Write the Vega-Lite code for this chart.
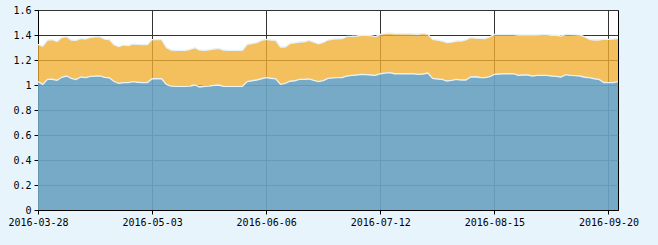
{
  "$schema": "https://vega.github.io/schema/vega-lite/v6.json",
  "autosize": "none",
  "width": 580,
  "height": 200,
  "padding": {"left": 38, "top": 10, "right": 40, "bottom": 35},
  "background": "#e8f4fc",
  "config": {
    "view": {"fill": "#ffffff", "stroke": "#000000", "strokeWidth": 1},
    "axis": {
      "labelFont": "DejaVu Sans Mono",
      "labelFontSize": 10,
      "labelColor": "#000000",
      "domainColor": "#000000",
      "tickColor": "#000000",
      "tickSize": 4,
      "gridColor": "#333333",
      "gridOpacity": 1,
      "gridWidth": 1,
      "labelOverlap": false,
      "title": null
    }
  },
  "data": {
    "values": [
      {"date": "2016-03-28", "nav": 1.027, "acc": 1.325},
      {"date": "2016-03-29", "nav": 1.005, "acc": 1.31},
      {"date": "2016-03-30", "nav": 1.045, "acc": 1.36},
      {"date": "2016-03-31", "nav": 1.046, "acc": 1.362},
      {"date": "2016-04-01", "nav": 1.037, "acc": 1.347},
      {"date": "2016-04-05", "nav": 1.062, "acc": 1.38},
      {"date": "2016-04-06", "nav": 1.072, "acc": 1.387},
      {"date": "2016-04-07", "nav": 1.052, "acc": 1.36},
      {"date": "2016-04-08", "nav": 1.043, "acc": 1.357},
      {"date": "2016-04-11", "nav": 1.064, "acc": 1.373},
      {"date": "2016-04-12", "nav": 1.059, "acc": 1.368},
      {"date": "2016-04-13", "nav": 1.069, "acc": 1.38},
      {"date": "2016-04-14", "nav": 1.071, "acc": 1.385},
      {"date": "2016-04-15", "nav": 1.072, "acc": 1.387},
      {"date": "2016-04-18", "nav": 1.061, "acc": 1.367},
      {"date": "2016-04-19", "nav": 1.058, "acc": 1.364},
      {"date": "2016-04-20", "nav": 1.028, "acc": 1.322},
      {"date": "2016-04-21", "nav": 1.013, "acc": 1.307},
      {"date": "2016-04-22", "nav": 1.019, "acc": 1.32},
      {"date": "2016-04-25", "nav": 1.019, "acc": 1.316},
      {"date": "2016-04-26", "nav": 1.027, "acc": 1.328},
      {"date": "2016-04-27", "nav": 1.022, "acc": 1.325},
      {"date": "2016-04-28", "nav": 1.019, "acc": 1.323},
      {"date": "2016-04-29", "nav": 1.019, "acc": 1.323},
      {"date": "2016-05-03", "nav": 1.05, "acc": 1.363},
      {"date": "2016-05-04", "nav": 1.05, "acc": 1.363},
      {"date": "2016-05-05", "nav": 1.05, "acc": 1.363},
      {"date": "2016-05-06", "nav": 1.005, "acc": 1.3},
      {"date": "2016-05-09", "nav": 0.992, "acc": 1.28},
      {"date": "2016-05-10", "nav": 0.99, "acc": 1.277},
      {"date": "2016-05-11", "nav": 0.99, "acc": 1.277},
      {"date": "2016-05-12", "nav": 0.99, "acc": 1.277},
      {"date": "2016-05-13", "nav": 0.992, "acc": 1.285},
      {"date": "2016-05-16", "nav": 1.0, "acc": 1.299},
      {"date": "2016-05-17", "nav": 0.984, "acc": 1.28},
      {"date": "2016-05-18", "nav": 0.99, "acc": 1.277},
      {"date": "2016-05-19", "nav": 0.992, "acc": 1.282},
      {"date": "2016-05-20", "nav": 0.997, "acc": 1.288},
      {"date": "2016-05-23", "nav": 1.0, "acc": 1.293},
      {"date": "2016-05-24", "nav": 0.99, "acc": 1.28},
      {"date": "2016-05-25", "nav": 0.99, "acc": 1.277},
      {"date": "2016-05-26", "nav": 0.99, "acc": 1.277},
      {"date": "2016-05-27", "nav": 0.99, "acc": 1.277},
      {"date": "2016-05-30", "nav": 0.99, "acc": 1.277},
      {"date": "2016-05-31", "nav": 1.027, "acc": 1.325},
      {"date": "2016-06-01", "nav": 1.034, "acc": 1.332},
      {"date": "2016-06-02", "nav": 1.04, "acc": 1.339},
      {"date": "2016-06-03", "nav": 1.05, "acc": 1.357},
      {"date": "2016-06-06", "nav": 1.059, "acc": 1.365},
      {"date": "2016-06-07", "nav": 1.054, "acc": 1.36},
      {"date": "2016-06-08", "nav": 1.05, "acc": 1.357},
      {"date": "2016-06-13", "nav": 1.005, "acc": 1.304},
      {"date": "2016-06-14", "nav": 1.012, "acc": 1.304},
      {"date": "2016-06-15", "nav": 1.03, "acc": 1.333},
      {"date": "2016-06-16", "nav": 1.034, "acc": 1.337},
      {"date": "2016-06-17", "nav": 1.045, "acc": 1.344},
      {"date": "2016-06-20", "nav": 1.045, "acc": 1.346},
      {"date": "2016-06-21", "nav": 1.048, "acc": 1.357},
      {"date": "2016-06-22", "nav": 1.037, "acc": 1.343},
      {"date": "2016-06-23", "nav": 1.027, "acc": 1.33},
      {"date": "2016-06-24", "nav": 1.035, "acc": 1.34},
      {"date": "2016-06-27", "nav": 1.053, "acc": 1.36},
      {"date": "2016-06-28", "nav": 1.057, "acc": 1.367},
      {"date": "2016-06-29", "nav": 1.059, "acc": 1.37},
      {"date": "2016-06-30", "nav": 1.059, "acc": 1.371},
      {"date": "2016-07-01", "nav": 1.072, "acc": 1.389},
      {"date": "2016-07-04", "nav": 1.077, "acc": 1.39},
      {"date": "2016-07-05", "nav": 1.08, "acc": 1.392},
      {"date": "2016-07-06", "nav": 1.085, "acc": 1.397},
      {"date": "2016-07-07", "nav": 1.083, "acc": 1.397},
      {"date": "2016-07-08", "nav": 1.08, "acc": 1.395},
      {"date": "2016-07-11", "nav": 1.077, "acc": 1.387},
      {"date": "2016-07-12", "nav": 1.09, "acc": 1.405},
      {"date": "2016-07-13", "nav": 1.095, "acc": 1.412},
      {"date": "2016-07-14", "nav": 1.099, "acc": 1.416},
      {"date": "2016-07-15", "nav": 1.09, "acc": 1.41},
      {"date": "2016-07-18", "nav": 1.09, "acc": 1.41},
      {"date": "2016-07-19", "nav": 1.09, "acc": 1.41},
      {"date": "2016-07-20", "nav": 1.09, "acc": 1.41},
      {"date": "2016-07-21", "nav": 1.09, "acc": 1.408},
      {"date": "2016-07-22", "nav": 1.085, "acc": 1.406},
      {"date": "2016-07-25", "nav": 1.088, "acc": 1.413},
      {"date": "2016-07-26", "nav": 1.096, "acc": 1.406},
      {"date": "2016-07-27", "nav": 1.053, "acc": 1.365},
      {"date": "2016-07-28", "nav": 1.048, "acc": 1.36},
      {"date": "2016-07-29", "nav": 1.045, "acc": 1.352},
      {"date": "2016-08-01", "nav": 1.032, "acc": 1.339},
      {"date": "2016-08-02", "nav": 1.037, "acc": 1.343},
      {"date": "2016-08-03", "nav": 1.045, "acc": 1.352},
      {"date": "2016-08-04", "nav": 1.04, "acc": 1.352},
      {"date": "2016-08-05", "nav": 1.04, "acc": 1.36},
      {"date": "2016-08-08", "nav": 1.064, "acc": 1.379},
      {"date": "2016-08-09", "nav": 1.066, "acc": 1.375},
      {"date": "2016-08-10", "nav": 1.06, "acc": 1.373},
      {"date": "2016-08-11", "nav": 1.059, "acc": 1.372},
      {"date": "2016-08-12", "nav": 1.066, "acc": 1.385},
      {"date": "2016-08-15", "nav": 1.085, "acc": 1.405},
      {"date": "2016-08-16", "nav": 1.088, "acc": 1.405},
      {"date": "2016-08-17", "nav": 1.09, "acc": 1.405},
      {"date": "2016-08-18", "nav": 1.09, "acc": 1.405},
      {"date": "2016-08-19", "nav": 1.09, "acc": 1.405},
      {"date": "2016-08-22", "nav": 1.077, "acc": 1.4},
      {"date": "2016-08-23", "nav": 1.08, "acc": 1.4},
      {"date": "2016-08-24", "nav": 1.08, "acc": 1.4},
      {"date": "2016-08-25", "nav": 1.072, "acc": 1.4},
      {"date": "2016-08-26", "nav": 1.077, "acc": 1.4},
      {"date": "2016-08-29", "nav": 1.077, "acc": 1.402},
      {"date": "2016-08-30", "nav": 1.077, "acc": 1.402},
      {"date": "2016-08-31", "nav": 1.072, "acc": 1.398},
      {"date": "2016-09-01", "nav": 1.069, "acc": 1.398},
      {"date": "2016-09-02", "nav": 1.064, "acc": 1.392},
      {"date": "2016-09-05", "nav": 1.083, "acc": 1.405},
      {"date": "2016-09-06", "nav": 1.077, "acc": 1.405},
      {"date": "2016-09-07", "nav": 1.075, "acc": 1.403},
      {"date": "2016-09-08", "nav": 1.072, "acc": 1.4},
      {"date": "2016-09-09", "nav": 1.062, "acc": 1.385},
      {"date": "2016-09-12", "nav": 1.059, "acc": 1.365},
      {"date": "2016-09-13", "nav": 1.05, "acc": 1.36},
      {"date": "2016-09-14", "nav": 1.045, "acc": 1.36},
      {"date": "2016-09-19", "nav": 1.02, "acc": 1.367},
      {"date": "2016-09-20", "nav": 1.019, "acc": 1.365},
      {"date": "2016-09-21", "nav": 1.019, "acc": 1.368},
      {"date": "2016-09-22", "nav": 1.027, "acc": 1.371}
    ]
  },
  "encoding": {
    "x": {
      "field": "date",
      "type": "ordinal",
      "sort": null,
      "scale": {"type": "point", "padding": 0},
      "axis": {
        "values": ["2016-03-28", "2016-05-03", "2016-06-06", "2016-07-12", "2016-08-15", "2016-09-20"],
        "labelAngle": 0,
        "grid": true,
        "labelPadding": 3
      }
    }
  },
  "layer": [
    {
      "mark": {"type": "area", "color": "#f1af33", "opacity": 0.79},
      "encoding": {
        "y": {"field": "acc", "type": "quantitative", "scale": {"domain": [0, 1.6]},
          "axis": {"values": [0, 0.2, 0.4, 0.6, 0.8, 1, 1.2, 1.4, 1.6], "grid": true, "labelPadding": 3,
            "labelExpr": "datum.value == 0 ? '0' : datum.value == 1 ? '1' : format(datum.value, '.1f')"}},
        "y2": {"field": "nav"}
      }
    },
    {
      "mark": {"type": "area", "color": "#6aa3c1", "opacity": 0.92},
      "encoding": {
        "y": {"field": "nav", "type": "quantitative", "scale": {"domain": [0, 1.6]},
          "axis": {"values": [0, 0.2, 0.4, 0.6, 0.8, 1, 1.2, 1.4, 1.6], "grid": true, "labelPadding": 3,
            "labelExpr": "datum.value == 0 ? '0' : datum.value == 1 ? '1' : format(datum.value, '.1f')"}}
      }
    },
    {
      "mark": {"type": "line", "color": "#e4f2fa", "strokeWidth": 1.3},
      "encoding": {"y": {"field": "acc", "type": "quantitative", "scale": {"domain": [0, 1.6]},
          "axis": {"values": [0, 0.2, 0.4, 0.6, 0.8, 1, 1.2, 1.4, 1.6], "grid": true, "labelPadding": 3,
            "labelExpr": "datum.value == 0 ? '0' : datum.value == 1 ? '1' : format(datum.value, '.1f')"}}}
    },
    {
      "mark": {"type": "line", "color": "#e4f2fa", "strokeWidth": 1.3},
      "encoding": {"y": {"field": "nav", "type": "quantitative", "scale": {"domain": [0, 1.6]},
          "axis": {"values": [0, 0.2, 0.4, 0.6, 0.8, 1, 1.2, 1.4, 1.6], "grid": true, "labelPadding": 3,
            "labelExpr": "datum.value == 0 ? '0' : datum.value == 1 ? '1' : format(datum.value, '.1f')"}}}
    }
  ]
}
